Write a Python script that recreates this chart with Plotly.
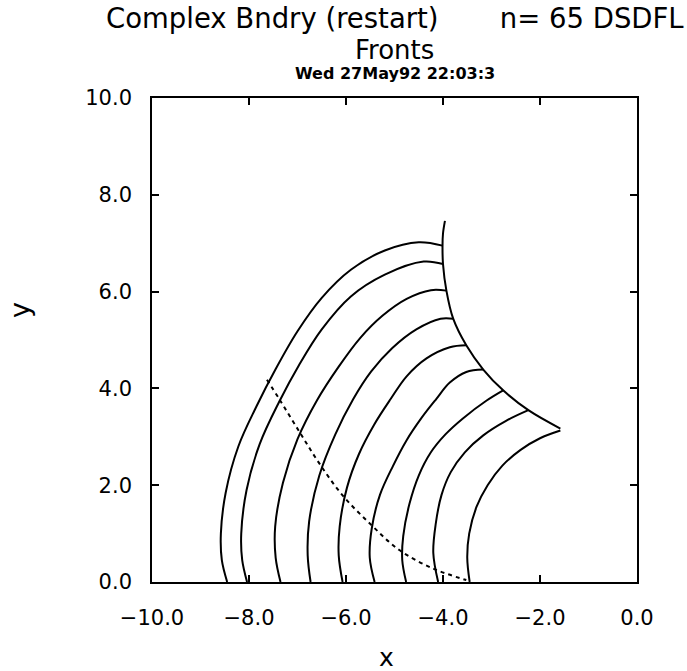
import plotly.graph_objects as go

# ---- data (x, y in data units) ----
front1_x = [-4.01, -4.50, -5.20, -5.90, -6.50, -7.00, -7.45, -7.85, -8.22, -8.48, -8.58, -8.56, -8.45]
front1_y = [6.95, 7.02, 6.85, 6.45, 5.87, 5.18, 4.40, 3.62, 2.80, 1.85, 1.00, 0.45, 0.00]
front2_x = [-4.00, -4.40, -5.20, -5.90, -6.50, -6.97, -7.38, -7.78, -8.05, -8.16, -8.14, -8.04]
front2_y = [6.57, 6.62, 6.35, 5.90, 5.22, 4.48, 3.72, 2.85, 1.90, 1.00, 0.45, 0.00]
front3_x = [-3.93, -4.25, -4.75, -5.25, -5.70, -6.15, -6.60, -7.00, -7.30, -7.46, -7.45, -7.35]
front3_y = [6.02, 6.03, 5.85, 5.50, 5.05, 4.45, 3.75, 2.95, 2.05, 1.15, 0.50, 0.00]
front4_x = [-3.79, -4.05, -4.55, -5.05, -5.48, -5.85, -6.22, -6.55, -6.76, -6.79, -6.73]
front4_y = [5.44, 5.44, 5.22, 4.83, 4.35, 3.78, 3.05, 2.20, 1.25, 0.55, 0.00]
front5_x = [-3.52, -3.86, -4.34, -4.75, -5.08, -5.42, -5.73, -5.98, -6.13, -6.15, -6.07]
front5_y = [4.89, 4.85, 4.62, 4.25, 3.78, 3.25, 2.65, 1.95, 1.15, 0.55, 0.00]
front6_x = [-3.17, -3.52, -3.86, -4.14, -4.45, -4.75, -5.03, -5.30, -5.47, -5.51, -5.41]
front6_y = [4.39, 4.34, 4.12, 3.78, 3.38, 2.93, 2.40, 1.80, 1.10, 0.50, 0.00]
front7_x = [-2.76, -3.10, -3.59, -3.95, -4.25, -4.50, -4.69, -4.82, -4.84, -4.76]
front7_y = [3.96, 3.75, 3.38, 3.05, 2.68, 2.20, 1.62, 0.95, 0.45, 0.00]
front8_x = [-2.24, -2.70, -3.17, -3.55, -3.84, -4.03, -4.15, -4.20, -4.10]
front8_y = [3.55, 3.33, 3.03, 2.68, 2.27, 1.80, 1.20, 0.60, 0.00]
front9_x = [-1.58, -2.00, -2.40, -2.78, -3.08, -3.31, -3.46, -3.50, -3.45]
front9_y = [3.13, 2.97, 2.73, 2.40, 2.00, 1.55, 1.00, 0.50, 0.00]

boundary_x = [-3.96, -4.00, -4.01, -4.00, -3.93, -3.79, -3.52, -3.17, -2.76, -2.24, -1.58]
boundary_y = [7.46, 7.20, 6.95, 6.57, 6.02, 5.44, 4.89, 4.39, 3.96, 3.55, 3.17]

path_x = [-7.63, -7.37, -6.94, -6.55, -6.07, -5.48, -4.90, -4.21, -3.52]
path_y = [4.18, 3.77, 3.07, 2.45, 1.79, 1.18, 0.66, 0.28, 0.04]

tick_vals = [-10, -8, -6, -4, -2, 0]
tick_text = ["\u221210.0", "\u22128.0", "\u22126.0", "\u22124.0", "\u22122.0", "0.0"]
ytick_vals = [0, 2, 4, 6, 8, 10]
ytick_text = ["0.0", "2.0", "4.0", "6.0", "8.0", "10.0"]

title1 = "Complex Bndry (restart)" + "\u00a0" * 7 + "n= 65 DSDFL"
title2 = "Fronts"
title3 = "Wed 27May92 22:03:3"
xlabel = "x"
ylabel = "y"

FONT = "DejaVu Sans"
# plot frame in page pixels
PL, PR, PT, PB = 152, 637, 98, 582
W, H = 687, 671


def px_x(px):
    return (px - PL) / (PR - PL)


def px_y(py):
    return (PB - py) / (PB - PT)


fig = go.Figure()
fronts = [(front1_x, front1_y), (front2_x, front2_y), (front3_x, front3_y),
          (front4_x, front4_y), (front5_x, front5_y), (front6_x, front6_y),
          (front7_x, front7_y), (front8_x, front8_y), (front9_x, front9_y)]
for fx, fy in fronts:
    fig.add_trace(go.Scatter(x=fx, y=fy, mode="lines",
                             line=dict(color="black", width=2, shape="spline", smoothing=1.0),
                             showlegend=False, hoverinfo="skip"))
fig.add_trace(go.Scatter(x=boundary_x, y=boundary_y, mode="lines",
                         line=dict(color="black", width=2, shape="spline", smoothing=1.0),
                         showlegend=False, hoverinfo="skip"))
fig.add_trace(go.Scatter(x=path_x, y=path_y, mode="lines",
                         line=dict(color="black", width=2, dash="4px,4px", shape="spline", smoothing=1.0),
                         showlegend=False, hoverinfo="skip"))

axis_common = dict(showgrid=False, zeroline=False, showline=True, linecolor="black",
                   linewidth=1.6, mirror="ticks", ticks="inside", ticklen=7,
                   tickwidth=1.5, tickcolor="black",
                   tickfont=dict(family=FONT, size=21, color="black"))
fig.update_xaxes(range=[-10, 0], tickvals=tick_vals, ticktext=tick_text,
                 ticklabelstandoff=16, **axis_common)
fig.update_yaxes(range=[0, 10], tickvals=ytick_vals, ticktext=ytick_text,
                 ticklabelstandoff=14, **axis_common)

fig.update_layout(
    width=W, height=H,
    margin=dict(l=PL, r=W - PR, t=PT, b=H - PB),
    plot_bgcolor="white", paper_bgcolor="white",
    font=dict(family=FONT, color="black"),
    annotations=[
        dict(text=title1, x=0.5, y=px_y(18), xref="paper", yref="paper",
             showarrow=False, xanchor="center", yanchor="middle",
             font=dict(family=FONT, size=27.5, color="black")),
        dict(text=title2, x=0.5, y=px_y(50), xref="paper", yref="paper",
             showarrow=False, xanchor="center", yanchor="middle",
             font=dict(family=FONT, size=26, color="black")),
        dict(text="<b>" + title3 + "</b>", x=0.5, y=px_y(74), xref="paper", yref="paper",
             showarrow=False, xanchor="center", yanchor="middle",
             font=dict(family=FONT, size=16, color="black")),
        dict(text=xlabel, x=px_x(386), y=px_y(657), xref="paper", yref="paper",
             showarrow=False, xanchor="center", yanchor="middle",
             font=dict(family=FONT, size=25, color="black")),
        dict(text=ylabel, x=px_x(19), y=px_y(310), xref="paper", yref="paper",
             showarrow=False, xanchor="center", yanchor="middle", textangle=-90,
             font=dict(family=FONT, size=27, color="black")),
    ],
)

fig.write_html("out.html", config={"displayModeBar": False},
               post_script="document.body.style.margin='0';")
